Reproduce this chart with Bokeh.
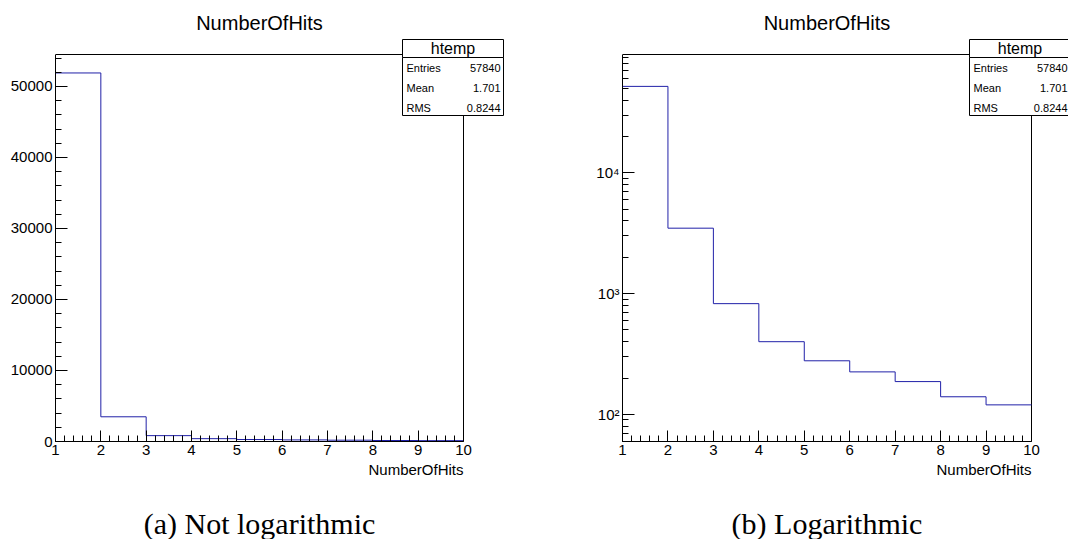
import numpy as np
from bokeh.plotting import figure
from bokeh.layouts import row, column
from bokeh.models import (FixedTicker, Range1d, Label, BoxAnnotation,
                          CustomJSTickFormatter)
from bokeh.embed import file_html
from bokeh.resources import INLINE

# ---- data ----
bin_edges = [1, 2, 3, 4, 5, 6, 7, 8, 9, 10]
counts = [51900, 3480, 826, 400, 278, 225, 187, 140, 120]
hist_title = "NumberOfHits"
x_title = "NumberOfHits"
stats_name = "htemp"
stat_labels = ["Entries", "Mean", "RMS"]
stat_values = ["57840", "1.701", "0.8244"]
captions = ["(a) Not logarithmic", "(b) Logarithmic"]
x_major = [1, 2, 3, 4, 5, 6, 7, 8, 9, 10]
lin_major = [0, 10000, 20000, 30000, 40000, 50000]
lin_range = (0, 54500)
log_major = [100, 1000, 10000]
log_range = (59.7, 95300)

FONT = "Liberation Sans"
SERIF = "Liberation Serif"
HIST_COLOR = "#2020a8"

W = 534            # width of each panel column
H_MAIN = 461       # height of the plotting figure
H_STRIP = 539 - H_MAIN
AXIS_BOTTOM = 441  # pixel row of the x axis
AXIS_TOP = 54      # pixel row of the top of the drawn box
BORDER_BOTTOM = H_MAIN - AXIS_BOTTOM


def style_axis(ax, major_len):
    ax.axis_line_color = "black"
    ax.axis_line_width = 1
    ax.major_tick_line_color = "black"
    ax.minor_tick_line_color = "black"
    ax.major_tick_in = major_len
    ax.major_tick_out = 0
    ax.minor_tick_in = 6
    ax.minor_tick_out = 0
    ax.major_label_text_font = FONT
    ax.major_label_text_font_size = "15px"
    ax.major_label_text_color = "black"
    ax.major_label_standoff = 3


def make_panel(log, border_left, axis_len_px, caption):
    frame_w = W - border_left
    frame_h = AXIS_BOTTOM
    x0, x1 = x_major[0], x_major[-1]
    px_per_x = axis_len_px / (x1 - x0)
    x_end = x0 + frame_w / px_per_x
    box_h = AXIS_BOTTOM - AXIS_TOP
    if log:
        lo, hi = log_range
        dec = np.log10(hi / lo) / box_h
        y_end = 10 ** (np.log10(lo) + dec * frame_h)
        yr = Range1d(lo, y_end)
    else:
        lo, hi = lin_range
        y_end = lo + (hi - lo) * frame_h / box_h
        yr = Range1d(lo, y_end)

    p = figure(width=W, height=H_MAIN, x_range=Range1d(x0, x_end), y_range=yr,
               y_axis_type="log" if log else "linear",
               output_backend="svg", toolbar_location=None, title=None,
               min_border_left=border_left, min_border_right=0,
               min_border_top=0, min_border_bottom=BORDER_BOTTOM)
    p.xgrid.visible = False
    p.ygrid.visible = False
    p.outline_line_color = None
    p.background_fill_color = "white"
    p.border_fill_color = "white"

    minor_x = [round(v, 2) for v in np.arange(x0, x1 + 1e-9, 0.2)]
    p.xaxis.ticker = FixedTicker(ticks=x_major, minor_ticks=minor_x)
    p.xaxis.bounds = (x0, x1)
    style_axis(p.xaxis[0], 11)

    if log:
        minor_y = []
        for d in [10, 100, 1000, 10000]:
            for m in range(2, 10):
                v = m * d
                if lo <= v <= hi:
                    minor_y.append(v)
        p.yaxis.ticker = FixedTicker(ticks=log_major, minor_ticks=minor_y)
        p.yaxis.formatter = CustomJSTickFormatter(code="""
            const sup = {'0':'\u2070','1':'\u00b9','2':'\u00b2','3':'\u00b3','4':'\u2074',
                         '5':'\u2075','6':'\u2076','7':'\u2077','8':'\u2078','9':'\u2079'};
            const e = Math.round(Math.log10(tick));
            return '10' + String(e).split('').map(c => sup[c]).join('');
        """)
    else:
        minor_y = list(range(lo, hi + 1, 2000))
        p.yaxis.ticker = FixedTicker(ticks=lin_major, minor_ticks=minor_y)
    p.yaxis.bounds = (lo, hi)
    style_axis(p.yaxis[0], 12)

    # frame: top and right edges of the box
    p.segment(x0=[x0, x1], y0=[hi, lo], x1=[x1, x1], y1=[hi, hi],
              line_color="black", line_width=1)

    # histogram outline
    xs = list(bin_edges)
    ys = list(counts) + [counts[-1]]
    p.step(xs, ys, mode="after", line_color=HIST_COLOR, line_width=1)

    # title
    p.add_layout(Label(x=axis_len_px / 2, y=frame_h - 22, x_units="screen",
                       y_units="screen", text=hist_title, text_align="center",
                       text_baseline="middle", text_font=FONT, text_font_size="20px",
                       text_color="black"))

    # stats box (pixel offsets from the left axis / top of figure)
    bl, br = 347, 448
    top = frame_h - 39
    sep = frame_h - 57
    bot = frame_h - 115
    for (t, b) in [(sep, bot), (top, sep)]:
        p.add_layout(BoxAnnotation(left=bl, right=br, top=t, bottom=b,
                                   left_units="screen", right_units="screen",
                                   top_units="screen", bottom_units="screen",
                                   fill_color="white", fill_alpha=1.0,
                                   line_color="black", line_width=1, line_alpha=1.0))
    p.add_layout(Label(x=(bl + br) / 2, y=(top + sep) / 2, x_units="screen",
                       y_units="screen", text=stats_name, text_align="center",
                       text_baseline="middle", text_font=FONT, text_font_size="16px",
                       text_color="black"))
    for i, (nm, val) in enumerate(zip(stat_labels, stat_values)):
        yy = frame_h - (67 + 20 * i)
        p.add_layout(Label(x=bl + 4, y=yy, x_units="screen", y_units="screen",
                           text=nm, text_align="left", text_baseline="middle",
                           text_font=FONT, text_font_size="11px", text_color="black"))
        p.add_layout(Label(x=br - 3, y=yy, x_units="screen", y_units="screen",
                           text=val, text_align="right", text_baseline="middle",
                           text_font=FONT, text_font_size="11px", text_color="black"))

    # strip below: x-axis title and caption (frame aligned with the plot frame)
    s = figure(width=W, height=H_STRIP, x_range=Range1d(0, frame_w), y_range=Range1d(0, H_STRIP),
               output_backend="svg", toolbar_location=None, title=None,
               x_axis_location=None, y_axis_location=None,
               min_border_left=border_left, min_border_right=0, min_border_top=0,
               min_border_bottom=0)
    s.xgrid.visible = False
    s.ygrid.visible = False
    s.outline_line_color = None
    s.border_fill_color = "white"
    s.add_layout(Label(x=axis_len_px, y=539 - 469, x_units="screen", y_units="screen",
                       text=x_title, text_align="right", text_baseline="middle",
                       text_font=FONT, text_font_size="15px", text_color="black"))
    s.add_layout(Label(x=axis_len_px / 2, y=539 - 523, x_units="screen", y_units="screen",
                       text=caption, text_align="center", text_baseline="middle",
                       text_font=SERIF, text_font_size="30px", text_color="black"))
    return column(p, s, spacing=0)


c1 = make_panel(False, 55, 408, captions[0])
c2 = make_panel(True, 88, 409, captions[1])
layout = row(c1, c2, spacing=0)

open("out.html", "w").write(file_html(layout, INLINE))
